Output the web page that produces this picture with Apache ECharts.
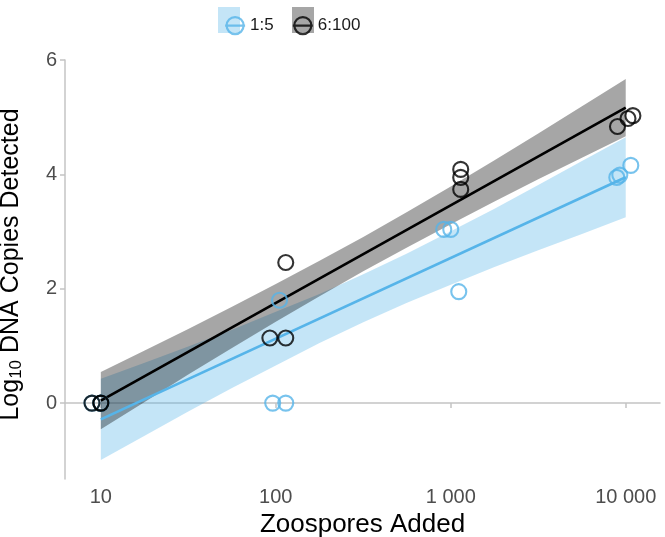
<!DOCTYPE html>
<html><head><meta charset="utf-8">
<script src="https://cdn.jsdelivr.net/npm/echarts@6/dist/echarts.min.js"></script>
<style>html,body{margin:0;padding:0;background:#fff}#c{width:665px;height:537px}</style>
</head><body><div id="c"></div>
<script>
// ---- data ----
const seriesNames = ['1:5', '6:100'];
const colors = ['#56B4E9', '#000000'];
const bandColors = ['rgba(86,180,233,0.35)', 'rgba(0,0,0,0.35)'];

const blueX = [8.9, 10, 10, 96, 114, 105, 912, 1000, 1111, 8890, 9250, 10690];
const blueY = [0, 0, 0, 0, 0, 1.80, 3.04, 3.04, 1.95, 3.95, 3.99, 4.16];
const blackX = [8.9, 10, 10, 92.5, 114, 114, 1140, 1140, 1140, 8970, 10300, 10990];
const blackY = [0, 0, 0, 1.14, 1.14, 2.46, 4.09, 3.95, 3.74, 4.84, 4.98, 5.03];

const fitX = [10, 10000];
const blueFit = [-0.285, 3.951];
const blackFit = [0.044, 5.171];

const bandX = [10, 17.8, 31.6, 56.2, 100, 177.8, 316.2, 562.3, 1000, 1778, 3162, 5623, 10000];
const blueLo = [-0.995, -0.572, -0.149, 0.264, 0.657, 1.050, 1.413, 1.756, 2.069, 2.382, 2.675, 2.958, 3.251];
const blueHi = [0.425, 0.708, 0.991, 1.284, 1.597, 1.910, 2.253, 2.616, 3.009, 3.402, 3.815, 4.238, 4.651];
const blackLo = [-0.456, 0.021, 0.499, 0.966, 1.423, 1.870, 2.308, 2.725, 3.132, 3.529, 3.917, 4.294, 4.671];
const blackHi = [0.544, 0.921, 1.299, 1.686, 2.083, 2.490, 2.908, 3.345, 3.792, 4.249, 4.717, 5.194, 5.671];

const xTickValues = [10, 100, 1000, 10000];
const xTickLabels = ['10', '100', '1 000', '10 000'];
const yTickValues = [0, 2, 4, 6];
const xRange = [6.24, 15700];
const yRange = [-1.328, 6.004];

// ---- build chart ----
const L = Math.log10;
const FONT = "'Liberation Sans', Arial, sans-serif";
const pts = (xs, ys) => xs.map((x, i) => [L(x), ys[i]]);

function band(name, lo, hi, color) {
  return {
    type: 'custom', name: name, z: 1, silent: true, data: [[L(bandX[0]), lo[0]]],
    renderItem: function (params, api) {
      const p = [];
      for (let i = 0; i < bandX.length; i++) p.push(api.coord([L(bandX[i]), lo[i]]));
      for (let i = bandX.length - 1; i >= 0; i--) p.push(api.coord([L(bandX[i]), hi[i]]));
      return { type: 'polygon', shape: { points: p }, style: { fill: color } };
    }
  };
}
function fit(name, ys, color, z) {
  return { type: 'line', name: name, z: z, data: pts(fitX, ys), showSymbol: false, silent: true,
    lineStyle: { color: color, width: 2.7 } };
}
function scat(name, xs, ys, color, z) {
  return { type: 'scatter', name: name, z: z, data: pts(xs, ys), symbol: 'circle', symbolSize: 15,
    itemStyle: { color: 'rgba(0,0,0,0)', borderColor: color, borderWidth: 2.1 } };
}
const glyph = 'path://M1.5,8.5a8.5,8.5 0 1,0 17,0a8.5,8.5 0 1,0 -17,0ZM0,8.5L20,8.5';
const fmtX = v => { const i = xTickValues.findIndex(t => Math.abs(L(t) - v) < 1e-6); return i >= 0 ? xTickLabels[i] : ''; };
const axisGray = '#c4c4c4';

const chart = echarts.init(document.getElementById('c'), null, { renderer: 'canvas' });
chart.setOption({
  animation: false,
  backgroundColor: '#fff',
  textStyle: { fontFamily: FONT },
  grid: { left: 65, right: 5, top: 60, bottom: 58, containLabel: false, outerBoundsMode: 'none' },
  graphic: [
    { type: 'rect', z: 0, shape: { x: 218, y: 7, width: 22, height: 26 }, style: { fill: '#c4e5f7' } },
    { type: 'rect', z: 0, shape: { x: 292, y: 7, width: 22, height: 26 }, style: { fill: '#a6a6a6' } }
  ],
  legend: {
    z: 10, left: 219, top: 11, itemWidth: 20, itemHeight: 18, itemGap: 18,
    textStyle: { fontSize: 17, color: '#1a1a1a', fontFamily: FONT },
    data: [
      { name: seriesNames[0], icon: glyph, itemStyle: { color: 'rgba(0,0,0,0)', borderColor: colors[0], borderWidth: 2.2 } },
      { name: seriesNames[1], icon: glyph, itemStyle: { color: 'rgba(0,0,0,0)', borderColor: colors[1], borderWidth: 2.2 } }
    ]
  },
  xAxis: {
    type: 'value', min: L(xRange[0]), max: L(xRange[1]),
    name: 'Zoospores Added', nameLocation: 'middle', nameGap: 30,
    nameTextStyle: { fontSize: 26, color: '#000', fontFamily: FONT },
    splitLine: { show: false },
    axisLine: { lineStyle: { color: axisGray, width: 1.5 } },
    axisTick: { show: true, length: 5, lineStyle: { color: axisGray, width: 1.5 }, customValues: xTickValues.map(L) },
    axisLabel: { fontSize: 20, color: '#4d4d4d', margin: 8, customValues: xTickValues.map(L), formatter: fmtX, fontFamily: FONT }
  },
  yAxis: {
    type: 'value', min: yRange[0], max: yRange[1],
    name: '{a|Log}{s|10}{a| DNA Copies Detected}', nameLocation: 'middle', nameGap: 40, nameRotate: 90,
    nameTextStyle: { color: '#000', fontFamily: FONT, padding: [0, 0, 0, 10],
      rich: { a: { fontSize: 25, color: '#000', fontFamily: FONT },
              s: { fontSize: 17, color: '#000', fontFamily: FONT, verticalAlign: 'bottom', padding: [10, 0, 0, 0] } } },
    splitLine: { show: false },
    axisLine: { show: true, lineStyle: { color: axisGray, width: 1.5 } },
    axisTick: { show: true, length: 5, lineStyle: { color: axisGray, width: 1.5 }, customValues: yTickValues },
    axisLabel: { fontSize: 20, color: '#4d4d4d', margin: 8, customValues: yTickValues, fontFamily: FONT }
  },
  series: [
    band('band 1:5', blueLo, blueHi, bandColors[0]),
    band('band 6:100', blackLo, blackHi, bandColors[1]),
    fit('fit 1:5', blueFit, colors[0], 2),
    fit('fit 6:100', blackFit, colors[1], 3),
    scat(seriesNames[0], blueX, blueY, colors[0], 4),
    scat(seriesNames[1], blackX, blackY, colors[1], 5)
  ]
});
</script></body></html>
